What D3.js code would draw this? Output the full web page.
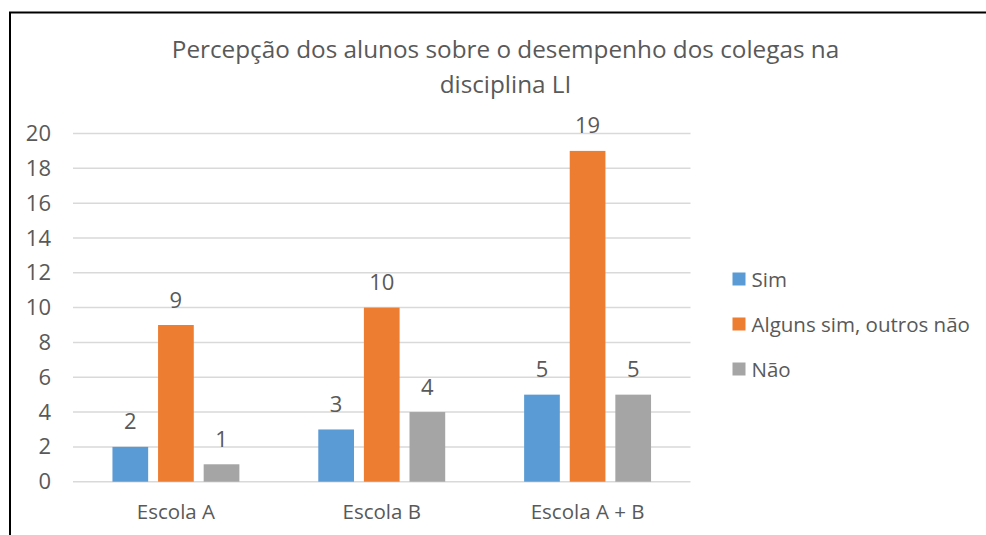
<!DOCTYPE html>
<html>
<head>
<meta charset="utf-8">
<script src="https://cdn.jsdelivr.net/npm/d3@7"></script>
<style>
  body { margin: 0; background: #fff; }
  text { font-family: "Open Sans", sans-serif; fill: #595959; }
</style>
</head>
<body>
<div id="chart"></div>
<script>
var categories = ["Escola A", "Escola B", "Escola A + B"];
var seriesNames = ["Sim", "Alguns sim, outros não", "Não"];
var sim = [2, 3, 5];
var alguns = [9, 10, 19];
var nao = [1, 4, 5];
var yTicks = [0, 2, 4, 6, 8, 10, 12, 14, 16, 18, 20];
var titleLines = ["Percepção dos alunos sobre o desempenho dos colegas na", "disciplina LI"];
var colors = ["#5b9bd5", "#ed7d31", "#a5a5a5"];

var seriesValues = [sim, alguns, nao];

var svg = d3.select("#chart").append("svg").attr("width", 986).attr("height", 535);

// frame (only top and left visible in the picture)
svg.append("rect").attr("x", 10).attr("y", 12.5).attr("width", 1100).attr("height", 700)
    .attr("fill", "none").attr("stroke", "#000").attr("stroke-width", 2);

var x0 = d3.scaleBand().domain(categories).range([73, 690.5]);
var x1 = d3.scaleBand().domain(seriesNames).range([0, x0.bandwidth()])
    .paddingInner(0.217).paddingOuter(0.865);
var y = d3.scaleLinear().domain([0, 20]).range([481.7, 133.5]);

// gridlines
svg.append("g").selectAll("line").data(yTicks).enter().append("line")
    .attr("x1", 73).attr("x2", 690.5)
    .attr("y1", function(d){ return y(d); }).attr("y2", function(d){ return y(d); })
    .attr("stroke", "#d9d9d9").attr("stroke-width", 1.5);

// y axis labels
var yAxis = d3.axisLeft(y).tickValues(yTicks).tickSize(0).tickPadding(0);
var yg = svg.append("g").attr("transform", "translate(51,0)").call(yAxis);
yg.select(".domain").remove();
yg.selectAll("text").style("font-size", "22px").style("font-family", "Open Sans").attr("fill", "#595959");

// x axis labels
var xAxis = d3.axisBottom(x0).tickSize(0).tickPadding(0);
var xg = svg.append("g").attr("transform", "translate(0,504)").call(xAxis);
xg.select(".domain").remove();
xg.selectAll("text").style("font-size", "20.5px").style("font-family", "Open Sans").attr("fill", "#595959");

// bars
var groups = svg.append("g").selectAll("g").data(categories).enter().append("g")
    .attr("transform", function(d){ return "translate(" + x0(d) + ",0)"; });

groups.selectAll("rect").data(function(d, i){
        return seriesNames.map(function(s, j){ return {s: s, v: seriesValues[j][i], c: colors[j]}; });
    }).enter().append("rect")
    .attr("x", function(d){ return x1(d.s); })
    .attr("width", x1.bandwidth())
    .attr("y", function(d){ return y(d.v); })
    .attr("height", function(d){ return y(0) - y(d.v); })
    .attr("fill", function(d){ return d.c; });

groups.selectAll("text").data(function(d, i){
        return seriesNames.map(function(s, j){ return {s: s, v: seriesValues[j][i]}; });
    }).enter().append("text")
    .attr("x", function(d){ return x1(d.s) + x1.bandwidth() / 2; })
    .attr("y", function(d){ return y(d.v) - 17.5; })
    .attr("text-anchor", "middle")
    .style("font-size", "22px")
    .text(function(d){ return d.v; });

// title
svg.append("g").selectAll("text").data(titleLines).enter().append("text")
    .attr("x", 505.5).attr("y", function(d, i){ return 58 + i * 35; })
    .attr("text-anchor", "middle")
    .style("font-size", "24.3px")
    .text(function(d){ return d; });

// legend
var legend = svg.append("g").selectAll("g").data(seriesNames).enter().append("g")
    .attr("transform", function(d, i){ return "translate(732.5," + (279 + i * 45) + ")"; });
legend.append("rect").attr("x", 0).attr("y", -6.5).attr("width", 13).attr("height", 13)
    .attr("fill", function(d, i){ return colors[i]; });
legend.append("text").attr("x", 19).attr("y", 7.5).style("font-size", "20.5px")
    .text(function(d){ return d; });
</script>
</body>
</html>
